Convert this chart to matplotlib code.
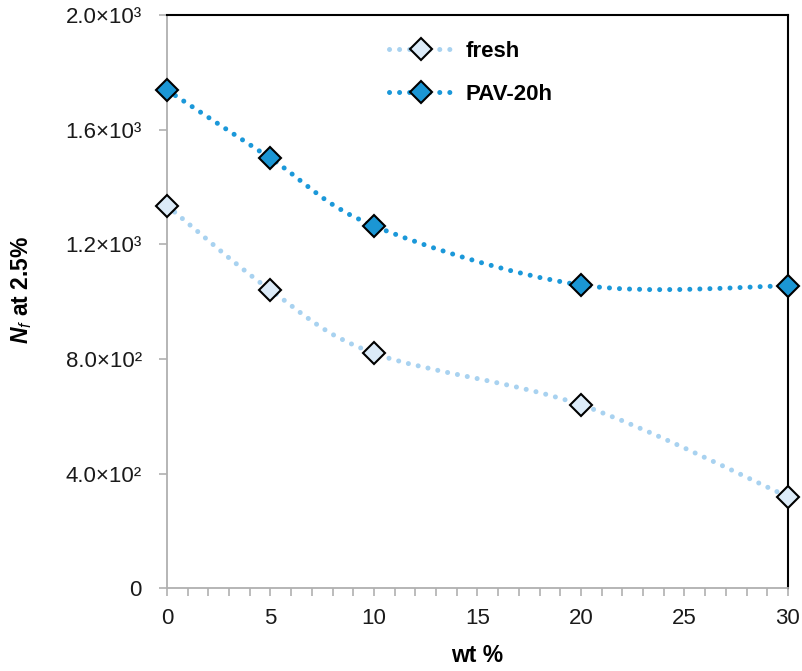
# Nf at 2.5% vs wt % -- fresh and PAV-20h binders
import matplotlib.pyplot as plt
from matplotlib.path import Path
from matplotlib.patches import PathPatch
from matplotlib.lines import Line2D
import numpy as np

# --- Data --------------------------------------------------------------------
wt = [0, 5, 10, 20, 30]
nf_fresh = [1335, 1040, 820, 640, 320]
nf_pav = [1738, 1500, 1264, 1058, 1055]

y_ticks = [0, 400, 800, 1200, 1600, 2000]
y_labels = ['0', '4.0×10²', '8.0×10²', '1.2×10³', '1.6×10³', '2.0×10³']
x_ticks = [0, 5, 10, 15, 20, 25, 30]

# --- Style -------------------------------------------------------------------
plt.rcParams['font.family'] = ['Liberation Sans', 'DejaVu Sans']
plt.rcParams['mathtext.fontset'] = 'custom'
plt.rcParams['mathtext.rm'] = 'Liberation Sans'
plt.rcParams['mathtext.it'] = 'Liberation Sans:italic'
plt.rcParams['mathtext.bf'] = 'Liberation Sans:bold'
plt.rcParams['mathtext.bfit'] = 'Liberation Sans:italic:bold'

fresh_line = '#A8D2F0'
fresh_face = '#DCEBF8'
pav_line = '#1B98D9'
pav_face = '#1B96D4'
grey = '#B0B0B0'
dots = (0, (0.01, 2.0))
msize = 11.5


# --- Smoothed curve (Excel style bezier through the points) ------------------
def smooth_path(x, y):
    p = np.column_stack([x, y]).astype(float)
    n = len(p)
    verts = [p[0]]
    codes = [Path.MOVETO]
    for i in range(n - 1):
        prev = p[i - 1] if i > 0 else p[i]
        nxt = p[i + 2] if i + 2 < n else p[i + 1]
        c1 = p[i] + (p[i + 1] - prev) / 6.0
        c2 = p[i + 1] - (nxt - p[i]) / 6.0
        verts += [c1, c2, p[i + 1]]
        codes += [Path.CURVE4] * 3
    return Path(verts, codes)


fig = plt.figure(figsize=(8.02, 6.71), dpi=100)
ax = fig.add_axes([0.2082, 0.1231, 0.7743, 0.8547])

series = [
    ('fresh', nf_fresh, fresh_line, fresh_face),
    ('PAV-20h', nf_pav, pav_line, pav_face),
]
handles = []
for name, vals, lc, fc in series:
    patch = PathPatch(smooth_path(wt, vals), fill=False, edgecolor=lc,
                      linewidth=3.6, linestyle=dots, capstyle='round',
                      zorder=2)
    ax.add_patch(patch)
    ax.plot(wt, vals, linestyle='none', marker='D', markersize=msize,
            markerfacecolor=fc, markeredgecolor='black',
            markeredgewidth=1.5, clip_on=False, zorder=4)
    handles.append(Line2D([], [], color=lc, linewidth=3.6, linestyle=dots,
                          dash_capstyle='round', marker='D', markersize=msize,
                          markerfacecolor=fc, markeredgecolor='black',
                          markeredgewidth=1.5, label=name))

# --- Axes --------------------------------------------------------------------
ax.set_xlim(0, 30)
ax.set_ylim(0, 2000)
ax.set_xticks(x_ticks)
ax.set_xticks(range(0, 31), minor=True)
ax.set_yticks(y_ticks)
ax.set_yticklabels(y_labels)

ax.spines['left'].set_color(grey)
ax.spines['bottom'].set_color(grey)
ax.spines['left'].set_linewidth(1.3)
ax.spines['bottom'].set_linewidth(1.3)
ax.spines['top'].set_color('black')
ax.spines['right'].set_color('black')
ax.spines['top'].set_linewidth(1.5)
ax.spines['right'].set_linewidth(1.5)

ax.tick_params(axis='y', direction='out', length=6, width=1.2, color=grey,
               labelsize=16, pad=12, labelcolor='#1a1a1a')
ax.tick_params(axis='x', which='both', direction='out', length=6, width=1.2,
               color=grey, labelsize=16, pad=8, labelcolor='#1a1a1a')

ax.set_xlabel('wt %', fontsize=16.5, fontweight='bold')
ax.xaxis.set_label_coords(0.5, -0.097)
ax.set_ylabel(r'$\mathbfit{N}_{\mathit{f}}$ at 2.5%', fontsize=16.5,
              fontweight='bold')
ax.yaxis.set_label_coords(-0.214, 0.52)

ax.legend(handles=handles, loc='upper left', bbox_to_anchor=(0.357, 0.955),
          frameon=False, numpoints=1, handlelength=2.9, handletextpad=0.55,
          labelspacing=1.0, borderpad=0, borderaxespad=0,
          prop={'size': 16, 'weight': 'bold'})

fig.savefig('out.png', dpi=100)
